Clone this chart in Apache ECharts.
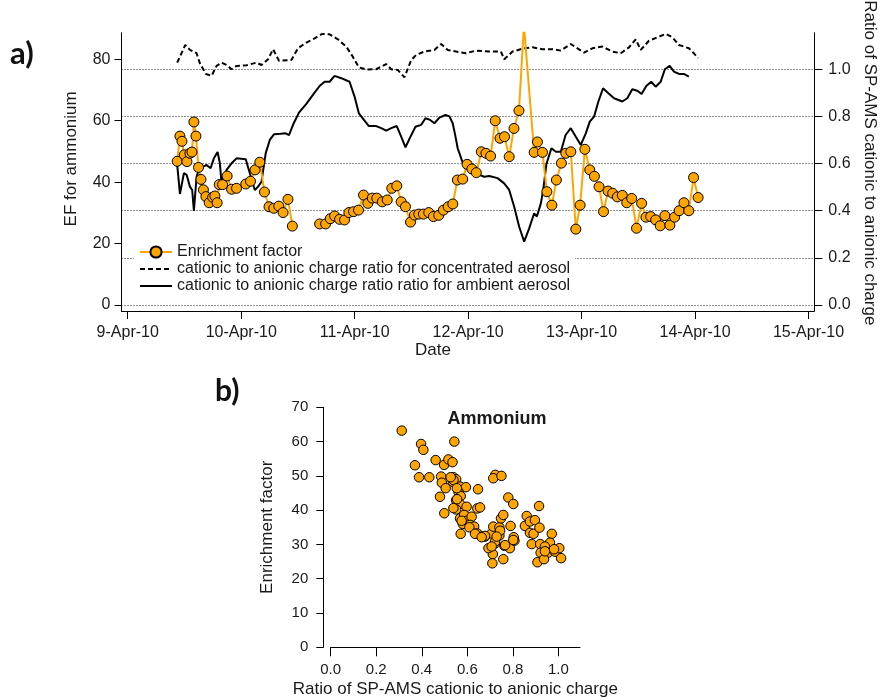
<!DOCTYPE html>
<html>
<head>
<meta charset="utf-8">
<script src="https://cdn.jsdelivr.net/npm/echarts@6/dist/echarts.min.js"></script>
<style>
  html, body { margin: 0; padding: 0; background: #fff; }
  #chart { width: 880px; height: 700px; }
</style>
</head>
<body>
<div id="chart"></div>
<script>
// Day-of-April 2010 positions of the date ticks and their labels
const tickDays = [9, 10, 11, 12, 13, 14, 15];
const tickLabels = ['9-Apr-10', '10-Apr-10', '11-Apr-10', '12-Apr-10', '13-Apr-10', '14-Apr-10', '15-Apr-10'];
const efTicks = [0, 20, 40, 60, 80];
const ratioTicks = [0, 0.2, 0.4, 0.6, 0.8, 1.0];
const scatterXTicks = [0, 0.2, 0.4, 0.6, 0.8, 1.0];

// Enrichment factor for ammonium: [day of April, EF]; '-' marks the data gap
const enrichmentFactor = [
  [9.436,46.8],[9.460,55.0],[9.478,53.3],[9.498,48.9],[9.522,46.7],[9.548,49.4],[9.566,49.8],[9.583,59.6],
  [9.601,55.0],[9.624,44.8],[9.645,40.9],[9.667,37.5],[9.689,35.3],[9.718,33.3],[9.748,35.1],[9.768,35.5],
  [9.788,33.3],[9.806,39.2],[9.836,39.2],[9.876,42.0],[9.915,37.7],[9.959,38.0],[10.040,39.4],[10.082,40.3],
  [10.122,44.0],[10.164,46.5],[10.205,36.8],[10.245,32.0],[10.287,31.5],[10.331,32.2],[10.369,30.1],[10.412,34.4],
  [10.451,25.7],[10.57,'-'],[10.691,26.4],[10.744,26.4],[10.785,28.1],[10.823,29.0],[10.867,27.9],[10.911,27.7],
  [10.949,30.1],[10.990,30.4],[11.034,30.9],[11.078,35.8],[11.116,33.1],[11.155,34.8],[11.195,34.8],[11.243,33.6],
  [11.287,34.2],[11.327,38.0],[11.371,38.8],[11.410,33.6],[11.448,32.0],[11.492,27.0],[11.527,29.3],[11.565,29.6],
  [11.606,29.6],[11.653,30.1],[11.694,28.8],[11.741,29.2],[11.782,30.9],[11.824,32.0],[11.865,32.9],[11.905,40.7],
  [11.952,41.0],[11.991,45.8],[12.033,44.3],[12.072,43.1],[12.116,49.9],[12.157,49.4],[12.198,48.5],[12.239,60.0],
  [12.281,54.3],[12.321,54.8],[12.362,48.3],[12.404,57.5],[12.448,63.3],[12.492,91.0],[12.582,49.7],[12.611,53.1],
  [12.655,49.7],[12.694,36.9],[12.738,32.5],[12.778,40.7],[12.822,46.2],[12.861,49.4],[12.905,49.9],[12.949,24.7],
  [12.987,32.5],[13.029,50.7],[13.072,44.0],[13.113,41.9],[13.154,38.5],[13.193,30.4],[13.233,37.1],[13.274,36.4],
  [13.315,35.2],[13.359,35.7],[13.398,33.3],[13.442,34.7],[13.484,25.0],[13.529,33.1],[13.567,28.6],[13.609,28.8],
  [13.653,27.7],[13.693,25.8],[13.734,29.1],[13.778,26.0],[13.820,28.6],[13.860,30.7],[13.902,33.3],[13.945,30.7],
  [13.987,41.5],[14.027,35.0]
];

// Cationic to anionic charge ratio, concentrated aerosol: [day of April, ratio]
const ratioConcentrated = [
  [9.436,1.028],[9.507,1.103],[9.548,1.082],[9.607,1.068],[9.636,1.025],[9.689,0.980],[9.739,0.972],[9.783,1.014],
  [9.827,1.028],[9.871,1.018],[9.915,1.000],[9.959,1.014],[10.047,1.017],[10.135,1.028],[10.179,1.018],[10.237,1.042],
  [10.281,1.085],[10.333,1.036],[10.442,1.039],[10.500,1.089],[10.574,1.113],[10.647,1.131],[10.715,1.150],[10.779,1.148],
  [10.852,1.127],[10.926,1.096],[10.984,1.053],[11.037,1.008],[11.102,0.999],[11.190,1.000],[11.278,1.022],[11.322,1.000],
  [11.380,0.997],[11.439,0.966],[11.498,1.039],[11.542,1.061],[11.615,1.075],[11.703,1.082],[11.762,1.107],[11.820,1.082],
  [11.894,1.075],[11.982,1.068],[12.069,1.079],[12.186,1.075],[12.289,1.075],[12.318,1.042],[12.391,1.075],[12.494,1.089],
  [12.567,1.093],[12.655,1.085],[12.743,1.085],[12.817,1.079],[12.905,1.107],[12.949,1.093],[13.022,1.070],[13.095,1.089],
  [13.183,1.096],[13.271,1.075],[13.345,1.068],[13.418,1.093],[13.477,1.127],[13.521,1.082],[13.594,1.121],[13.682,1.138],
  [13.741,1.150],[13.799,1.136],[13.858,1.103],[13.946,1.089],[13.989,1.068],[14.027,1.047]
];

// Cationic to anionic charge ratio, ambient aerosol: [day of April, ratio]
const ratioAmbient = [
  [9.436,0.594],[9.460,0.471],[9.495,0.559],[9.519,0.552],[9.548,0.502],[9.568,0.488],[9.583,0.399],[9.607,0.544],
  [9.630,0.580],[9.665,0.587],[9.695,0.594],[9.730,0.580],[9.759,0.622],[9.792,0.649],[9.812,0.601],[9.827,0.516],
  [9.871,0.573],[9.915,0.601],[9.959,0.622],[10.040,0.618],[10.076,0.559],[10.120,0.488],[10.149,0.502],[10.179,0.523],
  [10.216,0.644],[10.252,0.700],[10.289,0.724],[10.348,0.726],[10.392,0.728],[10.421,0.721],[10.463,0.771],[10.509,0.816],
  [10.574,0.853],[10.632,0.891],[10.691,0.929],[10.735,0.947],[10.779,0.947],[10.823,0.972],[10.882,0.962],[10.955,0.947],
  [10.999,0.884],[11.037,0.813],[11.087,0.782],[11.125,0.759],[11.190,0.759],[11.234,0.750],[11.278,0.740],[11.322,0.750],
  [11.371,0.759],[11.410,0.714],[11.448,0.669],[11.489,0.711],[11.536,0.756],[11.586,0.764],[11.624,0.792],[11.665,0.785],
  [11.703,0.771],[11.747,0.795],[11.800,0.806],[11.835,0.800],[11.864,0.771],[11.883,0.728],[11.908,0.665],[11.952,0.604],
  [12.025,0.566],[12.098,0.552],[12.142,0.544],[12.186,0.547],[12.259,0.538],[12.318,0.516],[12.362,0.488],[12.406,0.417],
  [12.450,0.332],[12.494,0.269],[12.538,0.325],[12.582,0.389],[12.606,0.375],[12.641,0.431],[12.662,0.488],[12.690,0.598],
  [12.734,0.665],[12.773,0.650],[12.817,0.650],[12.859,0.721],[12.905,0.750],[12.949,0.714],[12.993,0.679],[13.037,0.728],
  [13.072,0.778],[13.110,0.799],[13.148,0.863],[13.189,0.919],[13.236,0.898],[13.286,0.877],[13.359,0.863],[13.403,0.877],
  [13.447,0.915],[13.491,0.909],[13.529,0.895],[13.570,0.929],[13.614,0.947],[13.653,0.926],[13.697,0.947],[13.734,1.000],
  [13.776,1.014],[13.814,0.990],[13.858,0.980],[13.902,0.980],[13.945,0.969]
];

// Ammonium enrichment factor against the SP-AMS charge ratio: [ratio, EF]
const ammoniumScatter = [
  [0.312,63.2],[0.397,59.3],[0.407,57.6],[0.543,60.0],[0.370,53.1],[0.388,49.6],[0.433,49.6],[0.461,54.6],
  [0.498,53.2],[0.517,54.8],[0.535,54.0],[0.485,49.8],[0.488,48.0],[0.505,46.4],[0.480,43.9],[0.499,39.1],
  [0.539,49.6],[0.551,49.0],[0.536,48.3],[0.568,46.9],[0.594,46.7],[0.561,45.4],[0.571,44.1],[0.551,42.9],
  [0.568,41.8],[0.551,40.2],[0.597,41.0],[0.644,40.5],[0.656,40.8],[0.647,46.1],[0.568,37.6],[0.586,38.6],
  [0.597,36.9],[0.619,38.1],[0.571,33.1],[0.580,36.0],[0.612,35.7],[0.630,35.2],[0.644,33.2],[0.663,32.3],
  [0.678,32.3],[0.707,33.2],[0.714,35.2],[0.723,50.3],[0.714,49.3],[0.750,50.0],[0.741,35.0],[0.748,37.6],
  [0.758,38.6],[0.741,32.6],[0.722,30.3],[0.763,29.6],[0.787,28.9],[0.807,31.1],[0.804,32.1],[0.790,35.4],
  [0.780,43.7],[0.802,41.8],[0.712,27.2],[0.710,24.5],[0.758,25.7],[0.861,38.3],[0.853,35.4],[0.875,36.7],
  [0.875,33.4],[0.897,37.1],[0.891,33.1],[0.915,41.2],[0.917,34.9],[0.883,30.1],[0.920,30.1],[0.908,24.8],
  [0.971,33.1],[0.963,30.5],[0.941,29.4],[0.922,27.6],[0.955,27.6],[0.937,25.7],[0.985,27.9],[1.004,28.9],
  [1.012,26.0],[0.981,28.6],[0.941,28.0],[0.693,28.9],[0.722,30.8],[0.678,32.5],[0.744,34.0],[0.539,40.6],
  [0.555,43.2],[0.575,36.9],[0.609,35.0],[0.634,33.1],[0.663,32.1],[0.766,29.8],[0.802,31.3],[0.729,32.3],
  [0.707,29.4],[0.539,48.8],[0.527,49.6],[0.554,46.4]
];

const FONT = '"Liberation Sans", Arial, sans-serif';
const TEXT = '#1a1a1a';
const ORANGE = '#FFA500';

const chart = echarts.init(document.getElementById('chart'), null, { renderer: 'canvas' });

const option = {
  animation: false,
  backgroundColor: '#fff',
  textStyle: { fontFamily: FONT },
  title: [{
    text: 'Ammonium',
    left: 492, top: 405, textAlign: 'center',
    textStyle: { fontFamily: FONT, fontWeight: 'bold', fontSize: 18, color: TEXT }
  }],
  graphic: [
    { type: 'text', left: 10, top: 38, style: { text: 'a)', font: 'bold 31px Lato, "Open Sans", sans-serif', fill: '#111' } },
    { type: 'text', left: 215, top: 376, style: { text: 'b)', font: 'bold 30px Lato, "Open Sans", sans-serif', fill: '#111' } }
  ],
  legend: {
    orient: 'vertical',
    left: 134, top: 242,
    padding: [2, 5, 2, 5],
    itemGap: 1,
    itemWidth: 32, itemHeight: 14,
    backgroundColor: '#fff',
    textStyle: { fontFamily: FONT, fontSize: 16, color: TEXT, lineHeight: 16 },
    data: [
      { name: 'Enrichment factor' },
      { name: 'cationic to anionic charge ratio for concentrated aerosol', itemStyle: { opacity: 0 } },
      { name: 'cationic to anionic charge ratio ratio for ambient aerosol', itemStyle: { opacity: 0 } }
    ]
  },
  grid: [
    { left: 121.5, right: 65.7, top: 32.7, bottom: 389, containLabel: false, outerBoundsMode: 'none' },
    { left: 330.7, right: 300, top: 407.3, bottom: 52.7, containLabel: false, outerBoundsMode: 'none' }
  ],
  xAxis: [
    {
      gridIndex: 0, type: 'value', min: 8.945, max: 15.051,
      axisLine: { onZero: false, lineStyle: { color: '#000', width: 1 } },
      axisTick: { customValues: tickDays, length: 8, lineStyle: { color: '#000' } },
      axisLabel: {
        customValues: tickDays, margin: 14, fontSize: 16, color: TEXT, fontFamily: FONT,
        formatter: v => tickLabels[tickDays.indexOf(v)]
      },
      splitLine: { show: false },
      name: 'Date', nameLocation: 'middle', nameGap: 30,
      nameTextStyle: { fontSize: 17, color: TEXT, fontFamily: FONT, padding: [0, 70, 0, 0] }
    },
    {
      gridIndex: 1, type: 'value', min: 0, max: 1.095,
      axisLine: { onZero: false, lineStyle: { color: '#000', width: 1 } },
      axisTick: { customValues: scatterXTicks, length: 9, lineStyle: { color: '#000' } },
      axisLabel: {
        customValues: scatterXTicks, margin: 15, fontSize: 15, color: TEXT, fontFamily: FONT,
        formatter: v => v.toFixed(1)
      },
      splitLine: { show: false },
      name: 'Ratio of SP-AMS cationic to anionic charge', nameLocation: 'middle', nameGap: 34,
      nameTextStyle: { fontSize: 17, color: TEXT, fontFamily: FONT }
    }
  ],
  yAxis: [
    {
      gridIndex: 0, type: 'value', position: 'left', min: -1.95, max: 88.67,
      axisLine: { show: true, onZero: false, lineStyle: { color: '#000', width: 1 } },
      axisTick: { show: true, customValues: efTicks, length: 7, lineStyle: { color: '#000' } },
      axisLabel: { customValues: efTicks, margin: 11, fontSize: 16, color: TEXT, fontFamily: FONT },
      splitLine: { show: false },
      name: 'EF for ammonium', nameLocation: 'middle', nameRotate: 90, nameGap: 42,
      nameTextStyle: { fontSize: 17, color: TEXT, fontFamily: FONT, padding: [0, 0, 0, 26] }
    },
    {
      gridIndex: 0, type: 'value', position: 'right', min: -0.0255, max: 1.155,
      axisLine: { show: true, onZero: false, lineStyle: { color: '#000', width: 1 } },
      axisTick: { show: true, customValues: ratioTicks, length: 8, lineStyle: { color: '#000' } },
      axisLabel: {
        customValues: ratioTicks, margin: 14, fontSize: 16, color: TEXT, fontFamily: FONT,
        formatter: v => v.toFixed(1)
      },
      splitLine: { show: true, lineStyle: { color: '#222', width: 1, type: [1, 2] } },
      name: 'Ratio of SP-AMS cationic to anionic charge', nameLocation: 'middle', nameRotate: -90, nameGap: 47,
      nameTextStyle: { fontSize: 17, color: TEXT, fontFamily: FONT, padding: [0, 18, 0, 0] }
    },
    {
      gridIndex: 1, type: 'value', min: 0, max: 70, interval: 10, offset: 7.4,
      axisLine: { show: true, onZero: false, lineStyle: { color: '#000', width: 1 } },
      axisTick: { show: true, length: 7, lineStyle: { color: '#000' } },
      axisLabel: { margin: 15, fontSize: 15, color: TEXT, fontFamily: FONT },
      splitLine: { show: false },
      name: 'Enrichment factor', nameLocation: 'middle', nameRotate: 90, nameGap: 47,
      nameTextStyle: { fontSize: 17, color: TEXT, fontFamily: FONT }
    }
  ],
  series: [
    {
      name: 'cationic to anionic charge ratio for concentrated aerosol',
      type: 'line', xAxisIndex: 0, yAxisIndex: 1,
      data: ratioConcentrated, symbol: 'none', clip: true,
      lineStyle: { color: '#000', width: 2, type: [5, 3] },
      itemStyle: { color: '#000' }
    },
    {
      name: 'cationic to anionic charge ratio ratio for ambient aerosol',
      type: 'line', xAxisIndex: 0, yAxisIndex: 1,
      data: ratioAmbient, symbol: 'none', clip: true,
      lineStyle: { color: '#000', width: 2 },
      itemStyle: { color: '#000' }
    },
    {
      name: 'Enrichment factor',
      type: 'line', xAxisIndex: 0, yAxisIndex: 0,
      data: enrichmentFactor, connectNulls: false, clip: true,
      symbol: 'circle', symbolSize: 10, showAllSymbol: true,
      lineStyle: { color: ORANGE, width: 2 },
      itemStyle: { color: ORANGE, borderColor: '#000', borderWidth: 1 }
    },
    {
      name: 'Ammonium',
      type: 'scatter', xAxisIndex: 1, yAxisIndex: 2,
      data: ammoniumScatter,
      symbol: 'circle', symbolSize: 9.5,
      itemStyle: { color: ORANGE, borderColor: '#000', borderWidth: 1, opacity: 1 }
    }
  ]
};

chart.setOption(option);
</script>
</body>
</html>
